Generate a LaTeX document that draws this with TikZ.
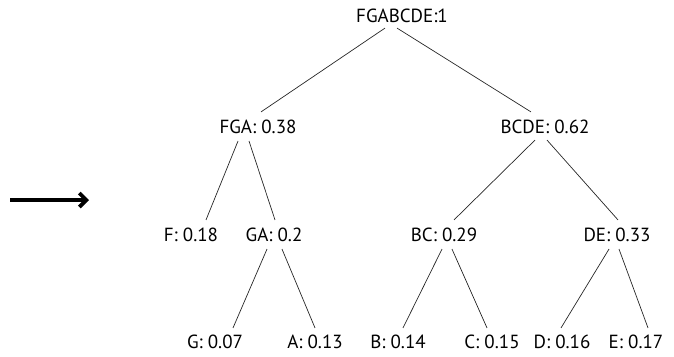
\documentclass[tikz,border=0pt]{standalone}
\usepackage{fontspec}
\setmainfont{PT Sans}
\usetikzlibrary{arrows.meta}
\begin{document}
\begin{tikzpicture}[x=1pt,y=-1pt,
  lbl/.style={inner sep=0pt,font=\fontsize{19}{22}\selectfont,text=black},
  edge/.style={draw=black!85,line width=0.7pt}]
\useasboundingbox (0,0) rectangle (674,356);
\node[lbl] (root) at (402,16) {FGABCDE:1};
\node[lbl] (fga) at (258,127) {FGA: 0.38};
\node[lbl] (bcde) at (545,127) {BCDE: 0.62};
\node[lbl] (f) at (191,235) {F: 0.18};
\node[lbl] (ga) at (274,235) {GA: 0.2};
\node[lbl] (bc) at (444,235) {BC: 0.29};
\node[lbl] (de) at (617,235) {DE: 0.33};
\node[lbl] (g) at (215,342) {G: 0.07};
\node[lbl] (a) at (315,342) {A: 0.13};
\node[lbl] (b) at (398,342) {B: 0.14};
\node[lbl] (c) at (492,342) {C: 0.15};
\node[lbl] (d) at (562,342) {D: 0.16};
\node[lbl] (e) at (636,342) {E: 0.17};
\draw[edge] ([shift={(-17,5)}]root.south) -- ([shift={(3,-8)}]fga.north);
\draw[edge] ([shift={(-5,5)}]root.south) -- ([shift={(-14,-8)}]bcde.north);
\draw[edge] ([shift={(-20,7)}]fga.south) -- ([shift={(15,-8)}]f.north);
\draw[edge] ([shift={(-9,7)}]fga.south) -- ([shift={(1,-8)}]ga.north);
\draw[edge] ([shift={(-10,6)}]bcde.south) -- ([shift={(10,-8)}]bc.north);
\draw[edge] ([shift={(2,6)}]bcde.south) -- ([shift={(1,-8)}]de.north);
\draw[edge] ([shift={(-7,7)}]ga.south) -- ([shift={(18,-7)}]g.north);
\draw[edge] ([shift={(8,7)}]ga.south) -- ([shift={(0,-7)}]a.north);
\draw[edge] ([shift={(-2,7)}]bc.south) -- ([shift={(5,-7)}]b.north);
\draw[edge] ([shift={(8,7)}]bc.south) -- ([shift={(-5,-7)}]c.north);
\draw[edge] ([shift={(-8,7)}]de.south) -- ([shift={(-1,-7)}]d.north);
\draw[edge] ([shift={(2,7)}]de.south) -- ([shift={(12,-7)}]e.north);
\coordinate (as) at (10,200);
\coordinate (ae) at (89,200);
\draw[line width=4pt,-{Straight Barb[length=7pt,width=14pt,line width=3.8pt]}] (as) -- (ae);
\end{tikzpicture}
\end{document}
